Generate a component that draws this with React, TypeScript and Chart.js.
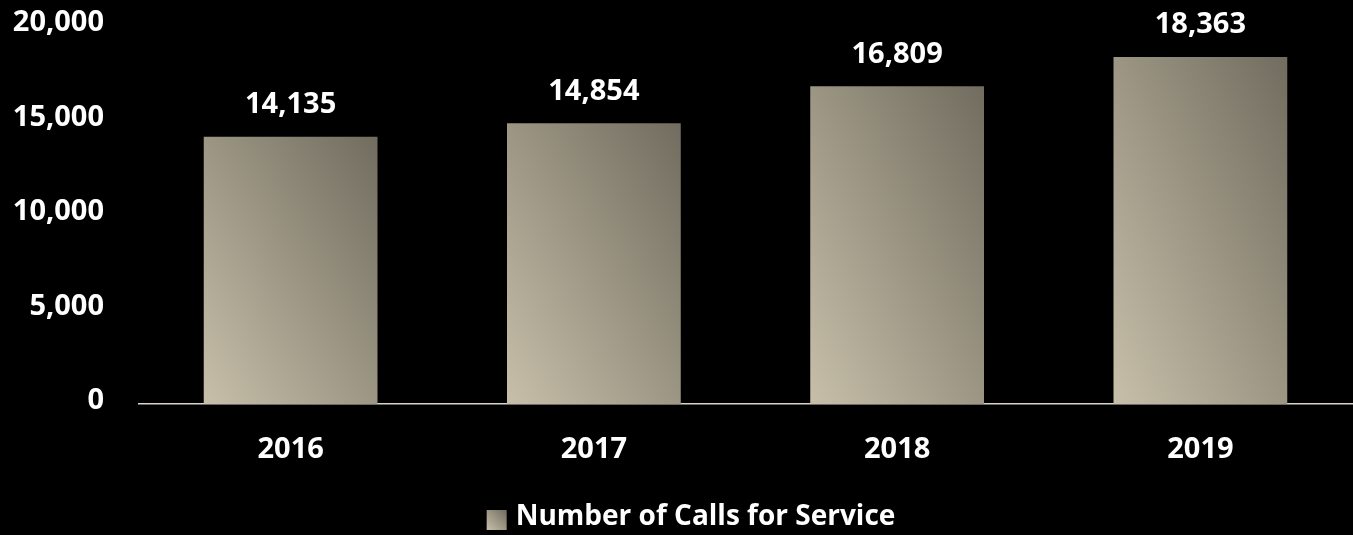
import React, { useEffect, useRef } from "react";
import { Chart, registerables } from "chart.js";

Chart.register(...registerables);

const categories = ["2016", "2017", "2018", "2019"];
const callsForService = [14135, 14854, 16809, 18363];
const yMin = 0;
const yMax = 20000;
const yStep = 5000;
const seriesLabel = "Number of Calls for Service";

const FONT = "'Open Sans', 'Noto Sans', sans-serif";
const FONT_SIZE = 29;
const LEGEND_FONT_SIZE = 28;
const LIGHT = "#c7bfa9";
const DARK = "#716c5f";

const fmt = (v: number) => v.toLocaleString("en-US");

function diagGradient(ctx: CanvasRenderingContext2D, left: number, top: number, w: number, h: number) {
  // Gradient from bottom-left to top-right, isolines parallel to the other diagonal
  const k = (2 * w * h) / (h * h + w * w);
  const x0 = left;
  const y0 = top + h;
  const g = ctx.createLinearGradient(x0, y0, x0 + h * k, y0 - w * k);
  g.addColorStop(0, LIGHT);
  g.addColorStop(1, DARK);
  return g;
}

const gradientPlugin = {
  id: "barGradient",
  beforeDatasetsDraw(chart: any) {
    const ctx = chart.ctx as CanvasRenderingContext2D;
    chart.data.datasets.forEach((_: any, di: number) => {
      const meta = chart.getDatasetMeta(di);
      meta.data.forEach((el: any) => {
        const left = el.x - el.width / 2;
        const top = Math.min(el.y, el.base);
        const h = Math.abs(el.base - el.y);
        const g = diagGradient(ctx, left, top, el.width, h);
        el.options = Object.assign({}, el.options, { backgroundColor: g });
      });
    });
  },
  afterDatasetsDraw(chart: any) {
    const ctx = chart.ctx as CanvasRenderingContext2D;
    const meta = chart.getDatasetMeta(0);
    ctx.save();
    ctx.fillStyle = "#ffffff";
    ctx.font = `bold ${FONT_SIZE}px ${FONT}`;
    ctx.textAlign = "center";
    ctx.textBaseline = "middle";
    meta.data.forEach((el: any, i: number) => {
      ctx.fillText(fmt(callsForService[i]), el.x, el.y - 32);
    });
    ctx.restore();
  },
  afterDraw(chart: any) {
    // Legend (single series) drawn below the axis labels
    const ctx = chart.ctx as CanvasRenderingContext2D;
    ctx.save();
    ctx.font = `bold ${LEGEND_FONT_SIZE}px ${FONT}`;
    const tw = ctx.measureText(seriesLabel).width;
    const boxW = 20;
    const boxH = 20;
    const gap = 9;
    const groupW = boxW + gap + tw;
    const cx = 691;
    const left = cx - groupW / 2;
    const cy = 517;
    ctx.fillStyle = diagGradient(ctx, left, cy - 7, boxW, boxH);
    ctx.fillRect(left, cy - 7, boxW, boxH);
    ctx.fillStyle = "#ffffff";
    ctx.textAlign = "left";
    ctx.textBaseline = "middle";
    ctx.fillText(seriesLabel, left + boxW + gap, cy);
    ctx.restore();
  },
};

export default function App() {
  const ref = useRef<HTMLCanvasElement | null>(null);

  useEffect(() => {
    if (!ref.current) return;
    const chart = new Chart(ref.current, {
      type: "bar",
      data: {
        labels: categories,
        datasets: [
          {
            label: seriesLabel,
            data: callsForService,
            backgroundColor: LIGHT,
            borderColor: "transparent",
            borderWidth: 0,
            barPercentage: 0.573,
            categoryPercentage: 1,
          },
        ],
      },
      options: {
        animation: false,
        responsive: true,
        maintainAspectRatio: false,
        layout: { padding: { top: 26, right: 1, left: 0, bottom: 36 } },
        plugins: {
          tooltip: { enabled: false },
          legend: { display: false },
        },
        scales: {
          x: {
            offset: true,
            grid: { display: false, drawTicks: false },
            border: { display: true, color: "#d9d3c7", width: 1.5 },
            ticks: {
              color: "#ffffff",
              font: { family: FONT, size: FONT_SIZE, weight: "bold" },
              padding: 28,
            },
            afterFit(scale: any) {
              scale.height = 95;
            },
          },
          y: {
            min: yMin,
            max: yMax,
            grid: { display: false, drawTicks: false },
            border: { display: false },
            ticks: {
              stepSize: yStep,
              color: "#ffffff",
              font: { family: FONT, size: FONT_SIZE, weight: "bold" },
              padding: 35,
              labelOffset: -3,
              callback: (v: any) => fmt(Number(v)),
            },
            afterFit(scale: any) {
              scale.width = 139;
              scale.paddingTop = 0;
              scale.paddingBottom = 0;
            },
          },
        },
      },
      plugins: [gradientPlugin],
    });
    return () => chart.destroy();
  }, []);

  return (
    <div
      style={{
        position: "fixed",
        left: 0,
        top: 0,
        width: 1353,
        height: 535,
        background: "#000000",
      }}
    >
      <canvas ref={ref} />
    </div>
  );
}
